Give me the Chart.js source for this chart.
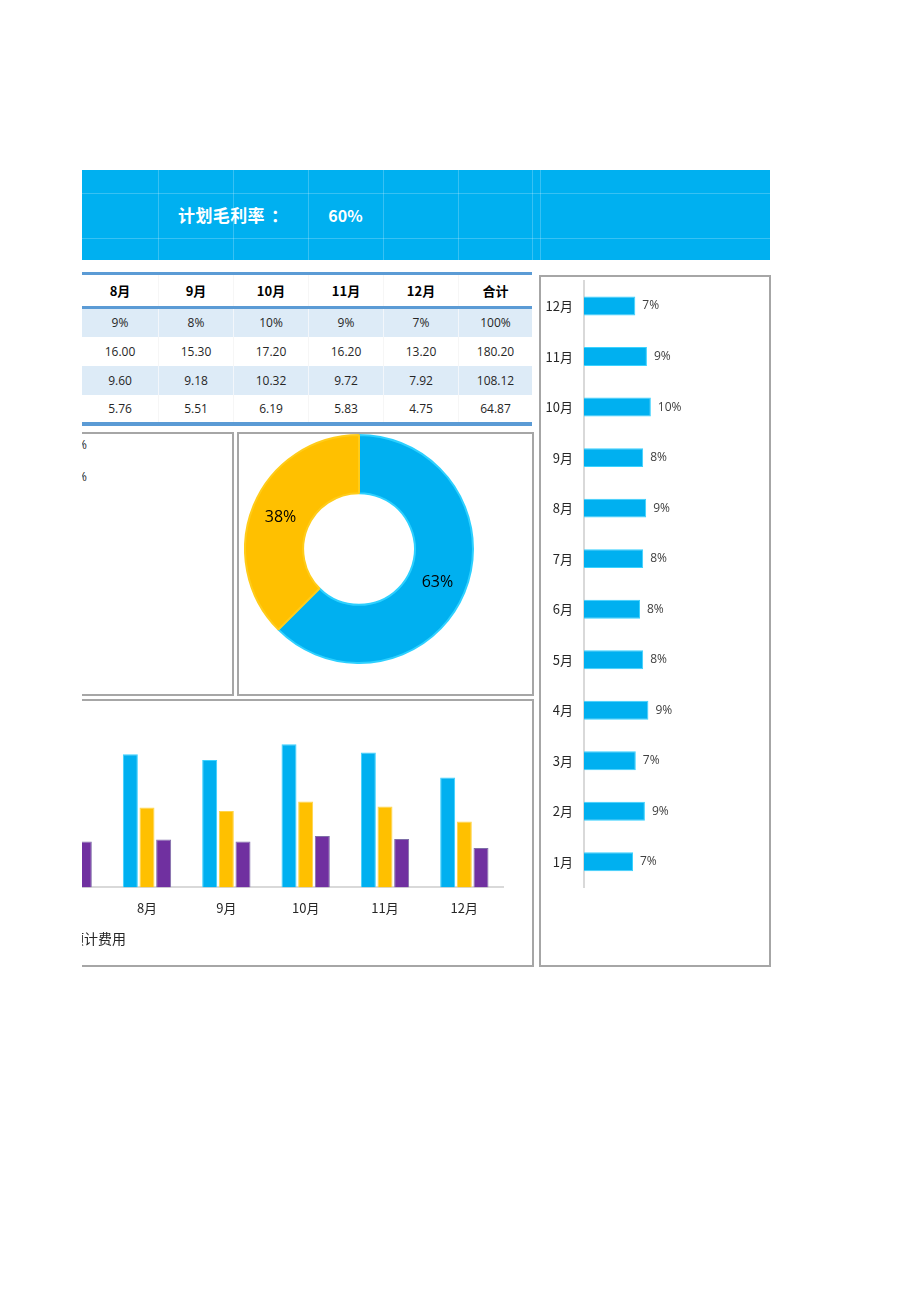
<!DOCTYPE html>
<html>
<head>
<meta charset="utf-8">
<script src="https://cdn.jsdelivr.net/npm/chart.js@4.4.1/dist/chart.umd.min.js"></script>
<style>
  html, body { margin: 0; padding: 0; background: #fff; }
  body { width: 920px; height: 1301px; position: relative; overflow: hidden;
         font-family: 'Noto Sans CJK SC', 'Open Sans', sans-serif; color: #262626; }
  .abs { position: absolute; }
  #mask { left: 0; top: 0; width: 82px; height: 1301px; background: #fff; z-index: 20; }
  #band { left: 82px; top: 170px; width: 688px; height: 90px; background: #00B0F0; }
  .gl { position: absolute; background: rgba(255,255,255,0.22); }
  .band-txt { color: #fff; font-weight: bold; white-space: nowrap; }
  .box { border: 2px solid #A6A6A6; box-sizing: border-box; background: #fff; }
  .row { position: absolute; left: 82px; width: 450px; display: flex; align-items: center; }
  .row div { text-align: center; flex: 0 0 auto; }
  .hd div { font-weight: bold; font-size: 13px; color: #000; }
  .dt div { font-family: 'Open Sans', sans-serif; font-size: 12px; color: #262626; }
  .rule { position: absolute; left: 82px; width: 450px; background: #5B9BD5; }
  canvas { position: absolute; z-index: 5; }
</style>
</head>
<body>
<div id="mask" class="abs"></div>

<!-- 顶部蓝色标题栏 -->
<div id="band" class="abs"></div>
<div class="abs band-txt" style="left:178px;top:203px;font-size:17px;line-height:24px;letter-spacing:0.4px;">计划毛利率<span style="padding-left:6px;">：</span></div>
<div class="abs band-txt" style="left:308px;top:204px;width:75px;text-align:center;font-size:16px;line-height:22px;">60%</div>

<!-- 表格 -->
<div id="table"></div>

<!-- 图表框 -->
<div class="abs box" style="left:40px;top:432px;width:194px;height:264px;"></div>
<div class="abs" style="left:30px;top:436px;width:57px;text-align:right;font-size:12px;font-family:'Open Sans';z-index:6;">9%</div>
<div class="abs" style="left:30px;top:468px;width:57px;text-align:right;font-size:12px;font-family:'Open Sans';z-index:6;">8%</div>
<div class="abs box" style="left:237px;top:432px;width:297px;height:264px;"></div>
<div class="abs box" style="left:40px;top:699px;width:494px;height:268px;"></div>
<div class="abs box" style="left:539px;top:275px;width:232px;height:692px;"></div>
<div class="abs" style="left:70px;top:928px;font-size:14px;line-height:20px;z-index:6;">预计费用</div>

<canvas id="donutChart" width="230" height="230" style="left:244px;top:434px;width:230px;height:230px;"></canvas>
<canvas id="monthChart" width="476" height="243" style="left:28px;top:700px;width:476px;height:243px;"></canvas>
<canvas id="shareChart" width="227" height="702" style="left:541px;top:262px;width:227px;height:702px;"></canvas>

<script>
// ====== 数据 ======
const tableHead   = ['8月', '9月', '10月', '11月', '12月', '合计'];
const tableShare  = ['9%', '8%', '10%', '9%', '7%', '100%'];
const tableIncome = ['16.00', '15.30', '17.20', '16.20', '13.20', '180.20'];
const tableGross  = ['9.60', '9.18', '10.32', '9.72', '7.92', '108.12'];
const tableCost   = ['5.76', '5.51', '6.19', '5.83', '4.75', '64.87'];

// 环形图：占比
const donutLabels = ['蓝', '黄'];
const donutValues = [62.5, 37.5];

// 月度柱形图（7月只露出一部分）
const barMonths = ['7月', '8月', '9月', '10月', '11月', '12月'];
const incomeVals = [15.30, 16.00, 15.30, 17.20, 16.20, 13.20];
const grossVals  = [9.18, 9.60, 9.18, 10.32, 9.72, 7.92];
const costVals   = [5.51, 5.76, 5.51, 6.19, 5.83, 4.75];

// 右侧：各月占比 (%)
const shareMonths = ['1月', '2月', '3月', '4月', '5月', '6月', '7月', '8月', '9月', '10月', '11月', '12月'];
const sharePct    = [7.0, 8.7, 7.4, 9.2, 8.45, 8.0, 8.45, 8.88, 8.45, 9.55, 8.99, 7.33];

// ====== 标题栏网格线 ======
const band = document.getElementById('band');
[76, 151, 226, 301, 376, 450, 458].forEach(x => {
  const d = document.createElement('div');
  d.className = 'gl';
  Object.assign(d.style, { left: x + 'px', top: '0px', width: '1px', height: '90px' });
  band.appendChild(d);
});
[23, 68].forEach(y => {
  const d = document.createElement('div');
  d.className = 'gl';
  Object.assign(d.style, { left: '0px', top: y + 'px', width: '688px', height: '1px' });
  band.appendChild(d);
});

// ====== 表格 ======
const colW = [76, 75, 75, 75, 75, 74];
const table = document.getElementById('table');
function addRule(top, h) {
  const r = document.createElement('div');
  r.className = 'rule';
  Object.assign(r.style, { top: top + 'px', height: h + 'px' });
  table.appendChild(r);
}
function addRow(cells, top, h, cls, bg) {
  const row = document.createElement('div');
  row.className = 'row ' + cls;
  Object.assign(row.style, { top: top + 'px', height: h + 'px', background: bg || 'transparent' });
  cells.forEach((c, i) => {
    const cell = document.createElement('div');
    cell.style.width = colW[i] + 'px';
    cell.style.height = h + 'px';
    cell.style.lineHeight = h + 'px';
    cell.style.boxSizing = 'border-box';
    if (i > 0) cell.style.borderLeft = '1px solid ' + (bg ? '#F2F6FB' : '#F6F6F6');
    cell.textContent = c;
    row.appendChild(cell);
  });
  table.appendChild(row);
}
addRule(272, 3);
addRow(tableHead, 275, 31, 'hd');
addRule(306, 3);
addRow(tableShare, 309, 28, 'dt', '#DDEBF7');
addRow(tableIncome, 337, 29, 'dt');
addRow(tableGross, 366, 29, 'dt', '#DDEBF7');
addRow(tableCost, 395, 27, 'dt');
addRule(422, 4);

// ====== Chart.js ======
Chart.defaults.font.family = "'Noto Sans CJK SC', 'Open Sans', sans-serif";
Chart.defaults.color = '#262626';
Chart.defaults.animation = false;

// 环形图标签
const donutLabelPlugin = {
  id: 'donutLabels',
  afterDatasetsDraw(chart) {
    const { ctx } = chart;
    const meta = chart.getDatasetMeta(0);
    const total = donutValues.reduce((a, b) => a + b, 0);
    ctx.save();
    ctx.font = "16px 'Open Sans', sans-serif";
    ctx.fillStyle = '#000';
    ctx.textAlign = 'center';
    ctx.textBaseline = 'middle';
    meta.data.forEach((arc, i) => {
      const p = arc.tooltipPosition();
      ctx.fillText(Math.round(donutValues[i] / total * 100) + '%', p.x, p.y + 1);
    });
    ctx.restore();
  }
};

new Chart(document.getElementById('donutChart'), {
  type: 'doughnut',
  data: {
    labels: donutLabels,
    datasets: [{
      data: donutValues,
      backgroundColor: ['#00B0F0', '#FFC000'],
      borderColor: ['#2DD0FF', '#FFCC1A'],
      borderWidth: 2,
      cutout: '49%'
    }]
  },
  options: {
    responsive: false,
    plugins: { legend: { display: false }, tooltip: { enabled: false } }
  },
  plugins: [donutLabelPlugin]
});

new Chart(document.getElementById('monthChart'), {
  type: 'bar',
  data: {
    labels: barMonths,
    datasets: [
      { label: '预计收入', data: incomeVals, backgroundColor: '#00B0F0', borderColor: '#3AD2FF', borderWidth: 1 },
      { label: '预计毛利', data: grossVals, backgroundColor: '#FFC000', borderColor: '#FFD54A', borderWidth: 1 },
      { label: '预计费用', data: costVals, backgroundColor: '#7030A0', borderColor: '#7F6FA8', borderWidth: 1 }
    ]
  },
  options: {
    responsive: false,
    layout: { padding: { top: 21, bottom: 14, left: 0, right: 0 } },
    datasets: { bar: { categoryPercentage: 0.63, barPercentage: 0.9 } },
    plugins: { legend: { display: false }, tooltip: { enabled: false } },
    scales: {
      x: {
        grid: { display: false, drawTicks: false },
        border: { display: true, color: '#D9D9D9', width: 2 },
        ticks: { padding: 13, font: { size: 13 }, color: '#262626' }
      },
      y: { display: false, min: 0, max: 20 }
    }
  }
});

// 右侧横向条形图标签
const shareLabelPlugin = {
  id: 'shareLabels',
  afterDatasetsDraw(chart) {
    const { ctx } = chart;
    const meta = chart.getDatasetMeta(0);
    ctx.save();
    ctx.font = "12px 'Open Sans', sans-serif";
    ctx.fillStyle = '#404040';
    ctx.textAlign = 'left';
    ctx.textBaseline = 'middle';
    meta.data.forEach((bar, i) => {
      ctx.fillText(Math.round(sharePct[i]) + '%', bar.x + 7, bar.y);
    });
    ctx.restore();
  }
};

new Chart(document.getElementById('shareChart'), {
  type: 'bar',
  data: {
    labels: shareMonths,
    datasets: [{
      data: sharePct,
      backgroundColor: '#00B0F0',
      borderColor: '#3AD2FF',
      borderWidth: 1,
      categoryPercentage: 1,
      barPercentage: 0.375
    }]
  },
  options: {
    indexAxis: 'y',
    responsive: false,
    layout: { padding: { top: 0, bottom: 77, left: 0, right: 100 } },
    plugins: { legend: { display: false }, tooltip: { enabled: false } },
    scales: {
      x: { display: false, min: 0, max: 12 },
      y: {
        reverse: true,
        grid: { display: false, drawTicks: false },
        border: { display: true, color: '#D9D9D9', width: 2 },
        ticks: { padding: 11, font: { size: 13 }, color: '#262626' },
        afterFit(scale) { scale.width = 43; }
      }
    }
  },
  plugins: [shareLabelPlugin]
});
</script>
</body>
</html>
